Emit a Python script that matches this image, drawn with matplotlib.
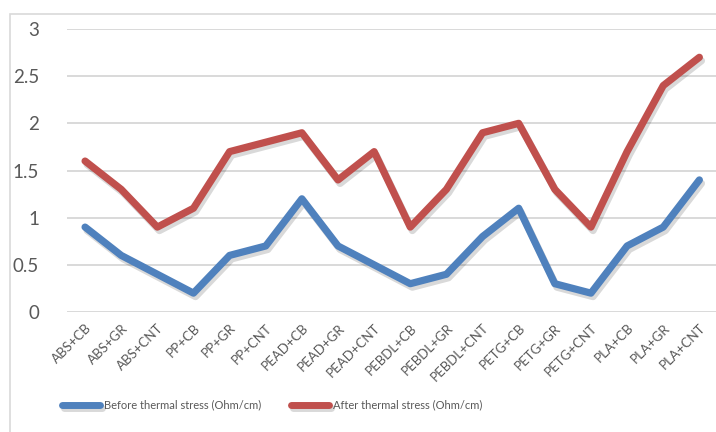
import matplotlib
matplotlib.use("Agg")
import matplotlib.pyplot as plt
import matplotlib.patheffects as pe
from matplotlib.patches import Rectangle

categories = ["ABS+CB", "ABS+GR", "ABS+CNT", "PP+CB", "PP+GR", "PP+CNT",
              "PEAD+CB", "PEAD+GR", "PEAD+CNT", "PEBDL+CB", "PEBDL+GR", "PEBDL+CNT",
              "PETG+CB", "PETG+GR", "PETG+CNT", "PLA+CB", "PLA+GR", "PLA+CNT"]
before = [0.9, 0.6, 0.4, 0.2, 0.6, 0.7, 1.2, 0.7, 0.5, 0.3, 0.4, 0.8,
          1.1, 0.3, 0.2, 0.7, 0.9, 1.4]
after = [1.6, 1.3, 0.9, 1.1, 1.7, 1.8, 1.9, 1.4, 1.7, 0.9, 1.3, 1.9,
         2.0, 1.3, 0.9, 1.7, 2.4, 2.7]
yticks = [0, 0.5, 1, 1.5, 2, 2.5, 3]

plt.rcParams["font.family"] = ["Lato", "DejaVu Sans"]

W, H = 716, 432
fig = plt.figure(figsize=(W / 100, H / 100), dpi=100)
fig.patch.set_facecolor("white")

# outer chart frame (left and top edges visible)
fig.patches.append(Rectangle((10 / W, -0.1), 1.2, 1 - 14 / H + 0.1,
                             transform=fig.transFigure, fill=False,
                             edgecolor="#D9D9D9", linewidth=1.2))

ax = fig.add_axes([67 / W, 1 - 312 / H, (W - 67) / W + 0.002, (312 - 29) / H])
ax.set_facecolor("none")
x = list(range(len(categories)))

shadow = [pe.SimpleLineShadow(offset=(1.5, -2.5), shadow_color="black", alpha=0.15),
          pe.Normal()]
ax.plot(x, before, color="#4F81BD", linewidth=5.2, solid_capstyle="round",
        solid_joinstyle="round", path_effects=shadow,
        label="Before thermal stress (Ohm/cm)", zorder=3)
ax.plot(x, after, color="#C0504D", linewidth=5.2, solid_capstyle="round",
        solid_joinstyle="round", path_effects=shadow,
        label="After thermal stress (Ohm/cm)", zorder=3)

ax.set_xlim(-0.5, len(categories) - 0.5)
ax.set_ylim(0, 3)
ax.set_yticks(yticks)
ax.set_yticklabels([f"{v:g}" for v in yticks], fontsize=13.5, color="#595959")
ax.tick_params(axis="y", length=0, pad=20)
ax.yaxis.grid(True, color="#D9D9D9", linewidth=1.4)
ax.set_axisbelow(True)

ax.set_xticks(x)
ax.set_xticklabels(categories, rotation=45, ha="right", rotation_mode="anchor",
                   fontsize=9.5, color="#595959")
ax.tick_params(axis="x", length=0, pad=7)

for s in ax.spines.values():
    s.set_visible(False)

leg = fig.legend(loc="center", bbox_to_anchor=(272 / W, 1 - 405 / H),
                 ncol=2, frameon=False, fontsize=8, handlelength=3.4,
                 handletextpad=0.35, columnspacing=2.7)
for t in leg.get_texts():
    t.set_color("#595959")
for h in leg.get_lines():
    h.set_linewidth(5)
    h.set_solid_capstyle("round")

fig.savefig("out.png", dpi=100, facecolor="white")
